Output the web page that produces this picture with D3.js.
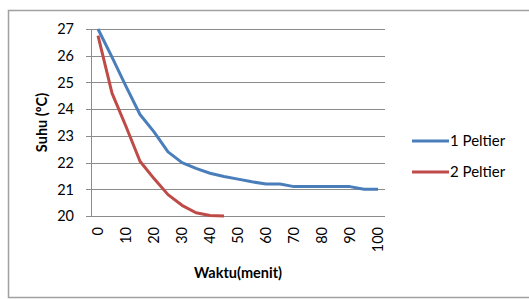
<!DOCTYPE html>
<html>
<head>
<meta charset="utf-8">
<script src="https://cdn.jsdelivr.net/npm/d3@7"></script>
<style>
  body { margin: 0; background: #fff; }
  svg { display: block; font-family: Lato, "Open Sans", sans-serif; }
</style>
</head>
<body>
<div id="chart"></div>
<script>
(function() {
  var width = 529;
  var height = 299;

  // minutes, 0..100 every 5
  var waktu = [0, 5, 10, 15, 20, 25, 30, 35, 40, 45, 50, 55, 60, 65, 70, 75, 80, 85, 90, 95, 100];
  var satuPeltier = [27, 25.95, 24.85, 23.8, 23.15, 22.4, 22.0, 21.78, 21.6, 21.48, 21.38, 21.28, 21.2, 21.2, 21.1, 21.1, 21.1, 21.1, 21.1, 21.0, 21.0];
  var duaPeltier = [26.75, 24.6, 23.35, 22.05, 21.4, 20.8, 20.4, 20.12, 20.02, 20.0];
  var yTicks = [20, 21, 22, 23, 24, 25, 26, 27];
  var xLabels = [0, 10, 20, 30, 40, 50, 60, 70, 80, 90, 100];
  var seriesNames = ['1 Peltier', '2 Peltier'];
  var colors = ['#4a7ebb', '#be4b48'];

  var plot = { left: 91, right: 385, top: 29, bottom: 216 };

  var svg = d3.select('#chart').append('svg')
    .attr('width', width)
    .attr('height', height);

  // outer chart border (runs off the right and bottom edge)
  svg.append('rect')
    .attr('x', 8.5)
    .attr('y', 10.5)
    .attr('width', 540)
    .attr('height', 287)
    .attr('fill', 'none')
    .attr('stroke', '#a0a0a0')
    .attr('stroke-width', 1.5);

  // category axis, points in the middle of each band like excel
  var x = d3.scalePoint()
    .domain(waktu)
    .range([plot.left, plot.right])
    .padding(0.5);

  var y = d3.scaleLinear()
    .domain([20, 27])
    .range([plot.bottom, plot.top]);

  // gridlines
  svg.append('g')
    .selectAll('line')
    .data(yTicks)
    .enter().append('line')
    .attr('x1', plot.left - 5)
    .attr('x2', plot.right)
    .attr('y1', function(d) { return Math.round(y(d)) + 0.5; })
    .attr('y2', function(d) { return Math.round(y(d)) + 0.5; })
    .attr('stroke', '#8c8c8c')
    .attr('stroke-width', 1);

  // y axis line
  svg.append('line')
    .attr('x1', plot.left + 0.5)
    .attr('x2', plot.left + 0.5)
    .attr('y1', plot.top)
    .attr('y2', plot.bottom)
    .attr('stroke', '#8c8c8c');

  // y tick labels
  svg.append('g')
    .selectAll('text')
    .data(yTicks)
    .enter().append('text')
    .attr('x', 74)
    .attr('y', function(d) { return y(d); })
    .attr('dy', '0.36em')
    .attr('text-anchor', 'end')
    .attr('font-size', 14.5)
    .attr('fill', '#000')
    .text(function(d) { return d; });

  // x tick labels, rotated
  svg.append('g')
    .selectAll('text')
    .data(xLabels)
    .enter().append('text')
    .attr('transform', function(d) {
      return 'translate(' + (x(d) + 5) + ',' + (plot.bottom + 11) + ') rotate(-90)';
    })
    .attr('text-anchor', 'end')
    .attr('font-size', 14.5)
    .attr('fill', '#000')
    .text(function(d) { return d; });

  // lines
  var line = d3.line()
    .x(function(d) { return x(d[0]); })
    .y(function(d) { return y(d[1]); });

  [satuPeltier, duaPeltier].forEach(function(values, i) {
    var pts = values.map(function(v, j) { return [waktu[j], v]; });
    svg.append('path')
      .datum(pts)
      .attr('d', line)
      .attr('fill', 'none')
      .attr('stroke', colors[i])
      .attr('stroke-width', 3)
      .attr('stroke-linejoin', 'round');
  });

  // axis titles
  svg.append('text')
    .attr('transform', 'translate(47,' + ((plot.top + plot.bottom) / 2) + ') rotate(-90)')
    .attr('text-anchor', 'middle')
    .attr('font-size', 14.5)
    .attr('font-weight', 'bold')
    .text('Suhu (ºC)');

  svg.append('text')
    .attr('x', 238)
    .attr('y', 278)
    .attr('text-anchor', 'middle')
    .attr('font-size', 14.5)
    .attr('font-weight', 'bold')
    .text('Waktu(menit)');

  // legend
  var legend = svg.append('g')
    .selectAll('g')
    .data(seriesNames)
    .enter().append('g')
    .attr('transform', function(d, i) { return 'translate(412,' + (141 + i * 31) + ')'; });

  legend.append('line')
    .attr('x1', 0)
    .attr('x2', 37)
    .attr('stroke', function(d, i) { return colors[i]; })
    .attr('stroke-width', 3);

  legend.append('text')
    .attr('x', 38)
    .attr('dy', '0.36em')
    .attr('font-size', 15)
    .text(function(d) { return d; });
})();
</script>
</body>
</html>
